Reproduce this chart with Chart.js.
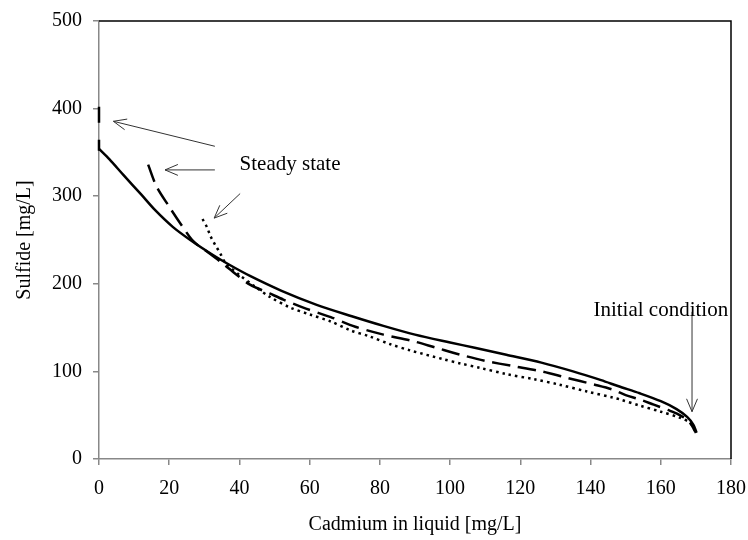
<!DOCTYPE html>
<html>
<head>
<meta charset="utf-8">
<script src="https://cdn.jsdelivr.net/npm/chart.js@4/dist/chart.umd.min.js"></script>
<style>
  html, body { margin: 0; padding: 0; background: #fff; }
  #wrap { width: 748px; height: 540px; }
</style>
</head>
<body>
<div id="wrap"><canvas id="chart" width="748" height="540"></canvas></div>
<script>
// --- data ---
const solidX = [0, 3, 7, 12, 16, 21, 26, 32, 37, 43, 52, 62, 72, 81, 90, 100, 107, 116, 126, 135, 143, 148, 154, 160, 164.5, 167.5, 169.3, 170.2];
const solidY = [354, 342, 324, 302, 284, 265, 250, 234, 222, 209, 192, 176, 163, 152, 142, 133, 127, 119, 110, 100, 90, 83, 75, 66, 57, 48, 39, 30];

const dashX = [14, 16.4, 20, 24, 27, 31, 35, 39, 43, 48.6, 52.5, 58, 66, 73, 81, 89, 96, 103, 110, 118, 126, 133, 141, 146.5, 150, 154, 158, 162, 165, 168, 170];
const dashY = [336, 311, 288, 264, 248, 236, 224, 211, 199, 189, 182, 173, 162, 151, 142, 135, 127, 119, 112, 106, 100, 93, 85, 79, 73, 68, 62, 56, 51, 43, 30];

const dotX = [29.5, 30.7, 31.8, 33, 34.5, 36, 40, 44, 48.7, 54.4, 60, 66, 71.5, 77, 83, 88.6, 98, 103, 108.5, 116, 124, 131, 139, 146.5, 148.4, 154, 160, 165.5, 168.4, 170];
const dotY = [274, 265, 254, 245, 235, 224, 210, 198, 185, 173, 165, 157, 147, 140, 131, 124, 114, 109, 104, 97, 91, 85, 77, 70, 68, 61, 54, 47, 41, 30];

// steady-state segment on the y axis
const steadyX = [0, 0];
const steadyY = [352, 402];

const xTicks = [0, 20, 40, 60, 80, 100, 120, 140, 160, 180];
const yTicks = [0, 100, 200, 300, 400, 500];

// annotation texts and arrows (data coords: from -> to)
const notes = [
  { text: 'Steady state', x: 54.4, y: 336 },
  { text: 'Initial condition', x: 160, y: 170 }
];
const arrows = [
  { x1: 33, y1: 357, x2: 4.1, y2: 385.5 },
  { x1: 33, y1: 330, x2: 18.8, y2: 330 },
  { x1: 40.2, y1: 303, x2: 32.8, y2: 275 },
  { x1: 168.9, y1: 168, x2: 168.9, y2: 54 }
];

const FONT = '"Liberation Serif", "Times New Roman", serif';
const pts = (xs, ys) => xs.map((x, i) => ({ x: x, y: ys[i] }));

const annotate = {
  id: 'annotate',
  afterDatasetsDraw(chart) {
    const ctx = chart.ctx;
    const xs = chart.scales.x, ys = chart.scales.y;
    const a = chart.chartArea;
    ctx.save();
    // top and right frame
    ctx.strokeStyle = '#000';
    ctx.lineWidth = 1.5;
    ctx.beginPath();
    ctx.moveTo(a.left, a.top);
    ctx.lineTo(a.right, a.top);
    ctx.lineTo(a.right, a.bottom);
    ctx.stroke();

    // arrows
    ctx.strokeStyle = '#333';
    ctx.lineWidth = 1;
    arrows.forEach(ar => {
      const x1 = xs.getPixelForValue(ar.x1), y1 = ys.getPixelForValue(ar.y1);
      const x2 = xs.getPixelForValue(ar.x2), y2 = ys.getPixelForValue(ar.y2);
      const ang = Math.atan2(y2 - y1, x2 - x1);
      const L = 14, w = 0.4;
      ctx.beginPath();
      ctx.moveTo(x1, y1);
      ctx.lineTo(x2, y2);
      ctx.moveTo(x2 - L * Math.cos(ang - w), y2 - L * Math.sin(ang - w));
      ctx.lineTo(x2, y2);
      ctx.lineTo(x2 - L * Math.cos(ang + w), y2 - L * Math.sin(ang + w));
      ctx.stroke();
    });

    // texts
    ctx.fillStyle = '#000';
    ctx.font = '21px ' + FONT;
    ctx.textAlign = 'center';
    ctx.textBaseline = 'middle';
    notes.forEach(n => {
      ctx.fillText(n.text, xs.getPixelForValue(n.x), ys.getPixelForValue(n.y));
    });
    ctx.restore();
  }
};

new Chart(document.getElementById('chart').getContext('2d'), {
  type: 'scatter',
  data: {
    datasets: [
      { label: 'solid', data: pts(solidX, solidY), borderColor: '#000', borderWidth: 2.5, tension: 0.3 },
      { label: 'dashed', data: pts(dashX, dashY), borderColor: '#000', borderWidth: 2.5, borderDash: [18, 8], tension: 0.3 },
      { label: 'dotted', data: pts(dotX, dotY), borderColor: '#000', borderWidth: 2.5, borderDash: [2.5, 4], tension: 0.3 },
      { label: 'steady', data: pts(steadyX, steadyY), borderColor: '#000', borderWidth: 2.5, borderDash: [11, 17, 16, 20], tension: 0 }
    ].map(d => Object.assign(d, { showLine: true, pointRadius: 0, pointHoverRadius: 0, fill: false, clip: false }))
  },
  options: {
    responsive: false,
    animation: false,
    events: [],
    layout: { padding: { top: 21, right: 17, left: 0, bottom: 0 } },
    plugins: { legend: { display: false }, tooltip: { enabled: false } },
    scales: {
      x: {
        type: 'linear',
        min: 0, max: 180,
        afterFit: s => { s.height = 81; s.paddingLeft = 0; s.paddingRight = 0; },
        afterBuildTicks: s => { s.ticks = xTicks.map(v => ({ value: v })); },
        border: { color: '#888', width: 1.5 },
        grid: { drawOnChartArea: false, color: '#888', tickLength: 6, lineWidth: 1.5 },
        ticks: { color: '#000', padding: 12, maxRotation: 0, font: { family: FONT, size: 20 } },
        title: { display: true, text: 'Cadmium in liquid [mg/L]', color: '#000', padding: { top: 0, bottom: 3 }, font: { family: FONT, size: 20 } }
      },
      y: {
        type: 'linear',
        min: 0, max: 500,
        afterFit: s => { s.width = 99; s.paddingTop = 0; s.paddingBottom = 0; },
        afterBuildTicks: s => { s.ticks = yTicks.map(v => ({ value: v })); },
        border: { color: '#888', width: 1.5 },
        grid: { drawOnChartArea: false, color: '#888', tickLength: 6, lineWidth: 1.5 },
        ticks: { color: '#000', padding: 11, font: { family: FONT, size: 20 } },
        title: { display: true, text: 'Sulfide [mg/L]', color: '#000', padding: { top: 13, bottom: 0 }, font: { family: FONT, size: 20 } }
      }
    }
  },
  plugins: [annotate]
});
</script>
</body>
</html>
